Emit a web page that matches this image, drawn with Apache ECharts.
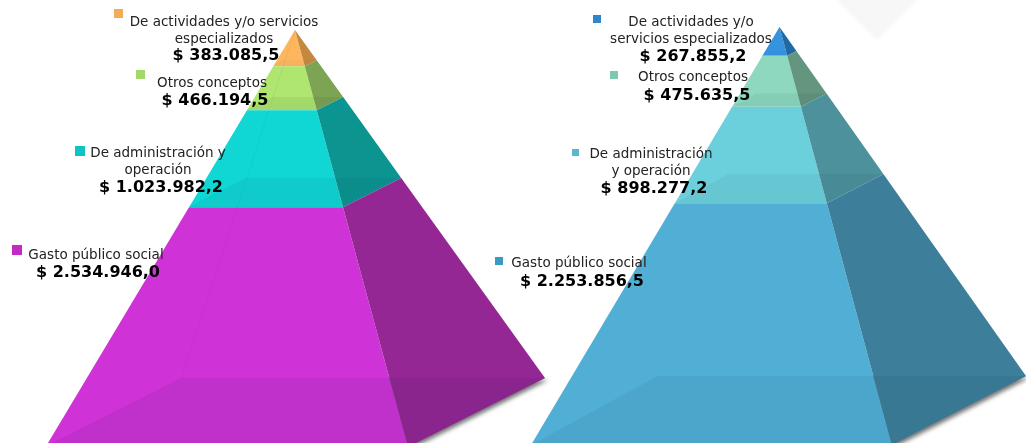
<!DOCTYPE html>
<html>
<head>
<meta charset="utf-8">
<style>html,body{margin:0;padding:0;background:#fff}#c{width:1026px;height:443px}</style>
<script src="https://cdn.jsdelivr.net/npm/echarts@6/dist/echarts.min.js"></script>
</head>
<body>
<div id="c"></div>
<script>
// ---- data (top band first) ----
const leftCategories = [['De actividades y/o servicios', 'especializados'], ['Otros conceptos'], ['De administración y', 'operación'], ['Gasto público social']];
const rightCategories = [['De actividades y/o', 'servicios especializados'], ['Otros conceptos'], ['De administración', 'y operación'], ['Gasto público social']];
const leftValues = [383085.5, 466194.5, 1023982.2, 2534946.0];
const rightValues = [267855.2, 475635.5, 898277.2, 2253856.5];

// ---- styles ----
const leftFront = ['#FDB55E', '#AEE66F', '#10D6D4', '#CF33D8'];
const leftSide = ['#C4883F', '#7CA453', '#0C9491', '#952795'];
const leftKey = ['#F2AC55', '#A3D86B', '#0CC4C4', '#C42BC4'];
const leftFloor = [0.02, 0.06, 0.05, 0.07];
const rightFront = ['#3593E0', '#8DD8BE', '#6CD0DC', '#51AFD6'];
const rightSide = ['#1F6AA3', '#63957F', '#4C919B', '#3D7F9B'];
const rightKey = ['#2F86C8', '#7FC7AD', '#5AB8C8', '#3A9ABF'];
const rightFloor = [0.02, 0.05, 0.05, 0.06];

// ---- layout: projection of the pyramid, in axis fractions ----
const leftShape = {apex: .4994, frontRight: .7257, backLeft: .273, depth: .8345, edge: 0.04, visible: 413 / 417};
const rightShape = {apex: .502, frontRight: .729, backLeft: .256, depth: .835, edge: 0, visible: 416 / 418};
const leftGrid = {left: 45.6, top: 30, width: 499.4, height: 413};
const rightGrid = {left: 531, top: 27, width: 496, height: 416};
// label anchors: [line centre x, first line y, line step, value centre x, value y, key x, key y, key size]
const leftLabels = [
  [224, 22, 17, 226, 56, 114, 9, 9],
  [212, 83, 17, 215, 101, 136, 70, 9],
  [158, 153, 17, 161, 188, 75, 146, 10],
  [96, 255, 17, 98, 273, 12, 245, 10]
];
const rightLabels = [
  [691, 22, 17, 693, 57, 593, 15, 8],
  [693, 77, 17, 697, 96, 610, 71, 8],
  [651, 154, 17, 654, 189, 572, 149, 7],
  [579, 263, 17, 582, 282, 495, 257, 8]
];

function cumulate(values) {
  let sum = 0;
  return values.map(function (v) { const from = sum; sum += v; return [from, sum]; });
}
function money(v) {
  const parts = v.toFixed(1).split('.');
  return '$ ' + parts[0].replace(/\B(?=(\d{3})+(?!\d))/g, '.') + ',' + parts[1];
}
function pointsOf(api, shape, total) {
  return function (corner, back, cum) {
    const t = cum / total;
    const x = shape.apex + t * (corner - shape.apex);
    return api.coord([x, back ? cum * shape.depth : cum]);
  };
}
function bandRenderer(shape, total, front, side, floor) {
  return function (params, api) {
    const at = pointsOf(api, shape, total);
    const a = api.value(0), b = api.value(1);
    const i = params.dataIndex;
    const fl = 0, fr = shape.frontRight, br = 1, bl = shape.backLeft;
    const poly = function (pts, style) { return {type: 'polygon', shape: {points: pts}, style: style, silent: true}; };
    return {
      type: 'group',
      children: [
        poly([at(fl, false, a), at(fr, false, a), at(fr, false, b), at(fl, false, b)], {fill: front[i]}),
        poly([at(fr, false, a), at(br, true, a), at(br, true, b), at(fr, false, b)], {fill: side[i]}),
        poly([at(fl, false, b), at(fr, false, b), at(br, true, b), at(bl, true, b)], {fill: 'rgba(0,10,40,' + floor[i] + ')'}),
        {type: 'polyline', silent: true, shape: {points: [at(bl, true, a), at(bl, true, b), at(fl, false, b)]}, style: {fill: null, stroke: 'rgba(0,0,0,' + shape.edge + ')', lineWidth: 1}}
      ]
    };
  };
}
function shadowRenderer(shape, total) {
  return function (params, api) {
    const at = pointsOf(api, shape, total);
    return {
      type: 'polygon', silent: true,
      shape: {points: [at(0, false, total), at(shape.frontRight, false, total), at(1, true, total), at(shape.backLeft, true, total)]},
      style: {fill: '#888', shadowBlur: 4, shadowColor: 'rgba(0,0,0,0.55)', shadowOffsetX: 3, shadowOffsetY: 2}
    };
  };
}
function sumOf(values) { return values.reduce(function (s, v) { return s + v; }, 0); }

function labelElements(categories, values, anchors, keys) {
  const out = [];
  categories.forEach(function (lines, i) {
    const an = anchors[i];
    out.push({type: 'rect', z: 10, silent: true, shape: {x: an[5], y: an[6], width: an[7], height: an[7]}, style: {fill: keys[i]}});
    lines.forEach(function (line, k) {
      out.push({type: 'text', z: 10, silent: true, x: an[0], y: an[1] + k * an[2], style: {text: line, fill: '#222', font: '13.5px "DejaVu Sans"', align: 'center', verticalAlign: 'middle'}});
    });
    out.push({type: 'text', z: 10, silent: true, x: an[3], y: an[4], style: {text: money(values[i]), fill: '#000', font: 'bold 16px "DejaVu Sans"', align: 'center', verticalAlign: 'middle'}});
  });
  return out;
}

const watermark = {
  type: 'polygon', z: 0, silent: true,
  shape: {points: [[836, -2], [918, -2], [877, 39]]},
  style: {fill: '#F7F7F7', shadowBlur: 5, shadowColor: '#F5F5F5'}
};

const chart = echarts.init(document.getElementById('c'), null, {renderer: 'canvas'});
chart.setOption({
  animation: false,
  backgroundColor: '#fff',
  tooltip: {show: false},
  grid: [leftGrid, rightGrid],
  xAxis: [
    {gridIndex: 0, type: 'value', min: 0, max: 1, show: false},
    {gridIndex: 1, type: 'value', min: 0, max: 1, show: false}
  ],
  yAxis: [
    {gridIndex: 0, type: 'value', inverse: true, min: 0, max: sumOf(leftValues) * leftShape.visible, show: false},
    {gridIndex: 1, type: 'value', inverse: true, min: 0, max: sumOf(rightValues) * rightShape.visible, show: false}
  ],
  series: [
    {type: 'custom', z: 1, xAxisIndex: 0, yAxisIndex: 0, clip: false, silent: true, data: [[0]], renderItem: shadowRenderer(leftShape, sumOf(leftValues))},
    {type: 'custom', z: 1, xAxisIndex: 1, yAxisIndex: 1, clip: false, silent: true, data: [[0]], renderItem: shadowRenderer(rightShape, sumOf(rightValues))},
    {type: 'custom', z: 2, xAxisIndex: 0, yAxisIndex: 0, clip: false, silent: true, data: cumulate(leftValues), renderItem: bandRenderer(leftShape, sumOf(leftValues), leftFront, leftSide, leftFloor)},
    {type: 'custom', z: 3, xAxisIndex: 1, yAxisIndex: 1, clip: false, silent: true, data: cumulate(rightValues), renderItem: bandRenderer(rightShape, sumOf(rightValues), rightFront, rightSide, rightFloor)}
  ],
  graphic: [watermark].concat(
    labelElements(leftCategories, leftValues, leftLabels, leftKey),
    labelElements(rightCategories, rightValues, rightLabels, rightKey)
  )
});
</script>
</body>
</html>
